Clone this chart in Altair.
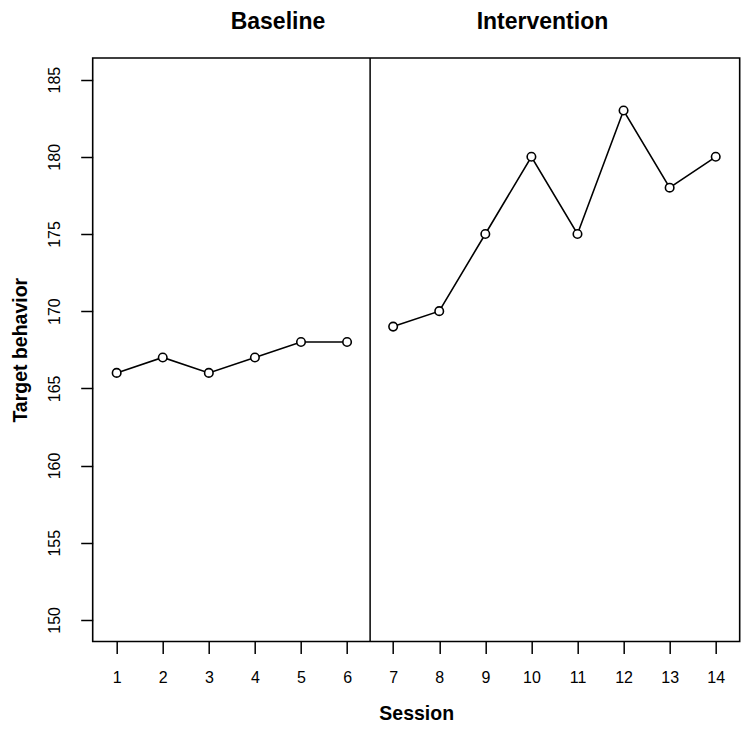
import altair as alt
import pandas as pd

baseline_sessions = [1, 2, 3, 4, 5, 6]
baseline_values = [166, 167, 166, 167, 168, 168]
intervention_sessions = [7, 8, 9, 10, 11, 12, 13, 14]
intervention_values = [169, 170, 175, 180, 175, 183, 178, 180]
phase_change = [6.5]
phase_labels = ["Baseline", "Intervention"]
phase_label_x = [4.5, 10.24]
x_ticks = list(range(1, 15))
y_ticks = [150, 155, 160, 165, 170, 175, 180, 185]

df = pd.DataFrame({
    "Session": baseline_sessions + intervention_sessions,
    "Value": baseline_values + intervention_values,
    "Phase": ["Baseline"] * len(baseline_sessions) + ["Intervention"] * len(intervention_sessions),
})
rule_df = pd.DataFrame({"x": phase_change})
lab_df = pd.DataFrame({"x": phase_label_x, "label": phase_labels})

FONT = "Liberation Sans"
W, H = 647, 583.5

xscale = alt.Scale(domain=[0.48, 14.52], nice=False, zero=False)
yscale = alt.Scale(domain=[148.6, 186.4], nice=False, zero=False)

xaxis = alt.Axis(values=x_ticks, title="Session", titleFont=FONT, titleFontSize=19.5,
                 titleFontWeight="bold", titleY=78, titleBaseline="alphabetic",
                 labelFont=FONT, labelFontSize=16, labelPadding=16, labelBaseline="top",
                 tickSize=12, tickWidth=1.5, tickColor="black", domain=False, grid=False,
                 labelColor="black", titleColor="black", labelFlush=False)
yaxis = alt.Axis(values=y_ticks, title="Target behavior", titleFont=FONT, titleFontSize=19.5,
                 titleFontWeight="bold", titleX=-66, titleAngle=270, titleBaseline="alphabetic",
                 labelFont=FONT, labelFontSize=16, labelAngle=270, labelAlign="center",
                 labelBaseline="bottom", labelPadding=18, labelFlush=False,
                 tickSize=12, tickWidth=1.5, tickColor="black", domain=False, grid=False,
                 labelColor="black", titleColor="black")

base = alt.Chart(df)
lines = base.mark_line(color="black", strokeWidth=1.6).encode(
    x=alt.X("Session:Q", scale=xscale, axis=xaxis),
    y=alt.Y("Value:Q", scale=yscale, axis=yaxis),
    detail="Phase:N",
)
points = base.mark_point(shape="circle", size=72, filled=False, fill="white", fillOpacity=1,
                         stroke="black", strokeWidth=1.6, opacity=1).encode(
    x=alt.X("Session:Q", scale=xscale),
    y=alt.Y("Value:Q", scale=yscale),
)
rule = alt.Chart(rule_df).mark_rule(color="black", strokeWidth=1.5).encode(
    x=alt.X("x:Q", scale=xscale),
)
labels = alt.Chart(lab_df).mark_text(font=FONT, fontSize=23, fontWeight="bold",
                                      baseline="alphabetic", align="center", color="black").encode(
    x=alt.X("x:Q", scale=xscale),
    y=alt.value(-29),
    text="label:N",
)

chart = alt.layer(rule, lines, points, labels).properties(
    width=W, height=H,
    background="white",
    autosize=alt.AutoSizeParams(type="none"),
    padding={"left": 84.7, "top": 50, "right": 1, "bottom": 85},
).configure_view(stroke="black", strokeWidth=1.6)

chart.save("out.html", embed_options={"renderer": "svg", "actions": False})
